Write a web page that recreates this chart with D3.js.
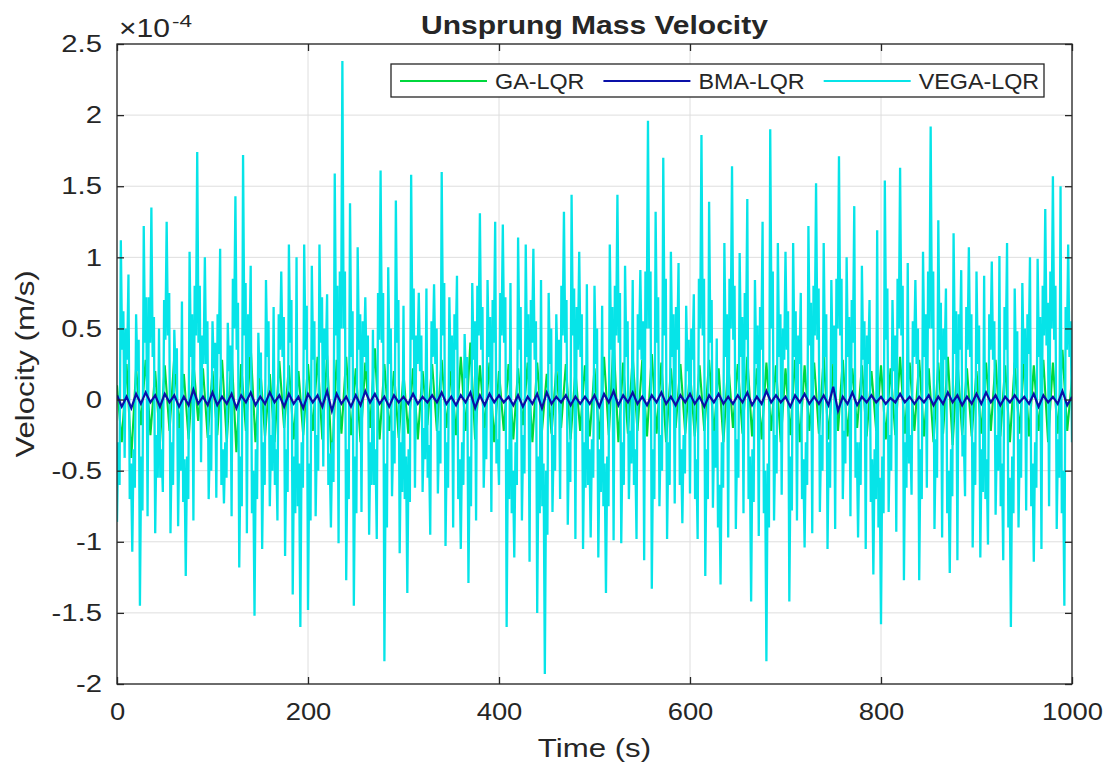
<!DOCTYPE html>
<html>
<head>
<meta charset="utf-8">
<title>Unsprung Mass Velocity</title>
<script src="https://cdn.jsdelivr.net/npm/d3@7"></script>
<style>
  body { margin: 0; background: #fff; }
  text { font-family: "Liberation Sans", Arial, Helvetica, sans-serif; fill: #262626; }
</style>
</head>
<body>
<script>
// velocities in units of 1e-4 m/s, evenly sampled from 0 to 1000 s
var vega = [
  -.86,-.3,-.6, 1.12,.35,.62, -.41,.5,.28, .88,-.7,-.45, -1.07,-.35,-.62, .6,.2,.42, -1.45,-.4,-.78, 1.22,.4,.72, -.82,.72,.4, 1.35,.3,.58, -.94,-.25,-.55, .5,-.55,-.35, -.65,.7,.42, 1.25,.45,.75,
  -.94,-.3,-.6, .49,.18,.36, -.89,-.2,-.5, .69,-.72,-.42, -1.24,-.4,-.7, 1.04,.3,.6, -.85,.8,.45, 1.74,.4,.8, -.44,.45,.25, 1.0,.25,.55, -.7,-.25,-.5, .55,.22,.4, -.69,.6,.32, 1.06,-.6,-.35,
  -.73,-.3,-.55, .54,.2,.38, -.82,.85,.5, 1.43,.35,.68, -1.18,-.4,-.75, 1.72,.45,.82, -.94,.6,.3, .94,-.8,-.5, -1.52,-.35,-.7, .47,.15,.33, -1.05,-.3,-.6, .84,.3,.55, -.75,-.25,-.5, .65,-.6,-.35,
  -.85,.6,.35, .9,.3,.58, -1.1,-.35,-.65, 1.09,.4,.7, -1.37,-.4,-.8, 1.0,-.75,-.45, -1.6,-.3,-.62, 1.09,.35,.66, -1.48,-.45,-.85, .94,.28,.55, -.82,-.25,-.5, 1.09,.4,.72, -.47,.5,.28, .74,-.6,-.38,
  -.9,-.3,-.58, 1.59,.45,.8, -1.01,.9,.5, 2.38,.5,.9, -1.27,-.35,-.7, 1.38,.3,.62, -1.45,-.4,-.8, 1.07,.35,.6, -.79,.55,.3, .72,.2,.45, -.95,-.3,-.6, .49,-.6,-.35, -.98,.75,.42, 1.61,.4,.75,
  -1.84,-.45,-.9, .93,.25,.5, -.68,-.22,-.45, 1.4,.4,.7, -1.08,-.3,-.65, .66,-.7,-.4, -1.36,-.35,-.72, 1.58,.42,.78, -.62,.45,.25, .75,.2,.45, -.65,-.2,-.42, .78,-.55,-.32, -.95,.55,.3, .81,.25,.5,
  -.66,-.22,-.45, 1.6,.45,.82, -1.03,-.3,-.62, .72,.2,.45, -.9,.6,.35, .87,-.7,-.42, -1.05,-.3,-.6, .46,.15,.3, -1.29,-.4,-.75, .82,.28,.55, -.85,.8,.45, 1.31,.35,.65, -.62,-.2,-.42, .84,.3,.58,
  -.79,.7,.4, 1.25,-.45,-.28, -.6,.75,.45, 1.23,.4,.72, -1.6,-.35,-.7, .82,-.8,-.5, -1.11,-.3,-.6, 1.14,.35,.65, -.85,-.25,-.52, 1.09,.3,.6, -1.14,.7,.4, 1.06,.28,.55, -1.5,-.4,-.8, .84,-.75,-.45,
  -1.93,-.5,-.95, .75,.25,.5, -.79,-.25,-.5, .6,.2,.42, -.7,.8,.45, 1.32,.4,.7, -.88,-.3,-.58, 1.44,.45,.78, -.98,.65,.35, 1.04,.3,.6, -1.05,-.3,-.62, .81,-.6,-.35, -.97,-.28,-.55,
  .8,.25,.5, -1.11,-.35,-.65, .66,-.75,-.45, -1.36,-.4,-.75, 1.09,.35,.65, -.99,.8,.45, 1.44,.4,.75, -1.01,-.3,-.6, .94,.3,.55, -.7,-.22,-.45, .84,-.6,-.35, -.98,.6,.35, .91,.28,.55, -1.13,.9,.5,
  1.96,.5,.9, -1.33,-.35,-.7, 1.32,.4,.72, -.75,-.25,-.5, 1.7,.45,.85, -.98,-.3,-.6, 1.04,.3,.6, -.73,.65,.35, .96,-.6,-.35, -.87,-.25,-.52, .66,.2,.42, -.66,.5,.28, .74,-.7,-.42, -.98,.85,.5,
  1.86,.45,.85, -1.24,-.35,-.7, 1.39,.4,.7, -.76,-.22,-.48, .43,-.9,-.6, -1.3,-.3,-.62, 1.1,.3,.6, -.97,.85,.5, 1.64,.42,.8, -.91,-.28,-.55, 1.03,.3,.58, -.8,.75,.42, 1.41,-.7,-.4, -1.42,-.35,-.72, .84,.25,.52,
  -.96,.65,.35, 1.25,-.8,-.5, -1.84,-.45,-.9, 1.9,.5,.9, -.85,-.25,-.52, 1.1,.3,.6, -.67,.5,.28, 1.04,.35,.62, -1.42,-.4,-.78, 1.1,.3,.62, -.85,.45,.25, .75,-.7,-.42, -1.04,-.3,-.6, 1.22,.38,.68,
  -.94,.8,.45, 1.52,.42,.78, -.79,-.25,-.5, 1.1,.3,.6, -1.05,-.3,-.62, .84,.25,.52, -.91,.85,.5, 1.71,.45,.85, -.7,-.22,-.45, 1.0,.3,.58, -.82,.7,.4, 1.36,-.55,-.3, -.97,-.3,-.6, .94,.28,.55,
  -1.05,.45,.25, .7,-.72,-.42, -1.23,-.35,-.7, 1.19,-.9,-.55, -1.58,-.4,-.8, 1.54,.42,.78, -.79,-.25,-.5, .7,.2,.45, -.93,.85,.5, 1.63,.45,.8, -1.27,-.3,-.62, .96,-.45,-.25, -.67,.55,.3, .84,.25,.5,
  -1.27,-.35,-.7, 1.04,.3,.6, -.62,.9,.5, 1.92,.5,.9, -.91,-.28,-.55, 1.26,.35,.68, -.97,.5,.28, .78,-.8,-.5, -1.22,-.35,-.68, 1.17,.32,.62, -1.13,.6,.35, .91,-.4,-.25, -.68,.65,.35, 1.07,.3,.6,
  -1.04,-.3,-.6, .9,.25,.52, -1.11,-.35,-.65, .87,-.7,-.42, -1.02,.6,.35, .97,.28,.55, -.81,-.25,-.5, 1.01,-.75,-.45, -1.13,.65,.35, 1.1,-.9,-.55, -1.6,-.4,-.8, .78,.22,.48, -.9,-.28,-.55, .82,.25,.5,
  -.78,.6,.32, 1.0,-.75,-.45, -1.14,-.3,-.62, .99,.3,.58, -1.05,.8,.45, 1.34,.38,.68, -.75,.9,.5, 1.57,.42,.8, -.91,-.28,-.55, 1.5,-.8,-.5, -1.45,.65,.35, 1.09,.3,.55, -.3
];

var ga = [
  .10,-.30,.25,-.41,.22,-.18,.28,-.25,.20,-.30,
  .24,-.22,.30,-.20,.18,-.28,.26,-.15,.22,-.27,
  .20,-.25,.28,-.30,.33,-.37,.25,-.22,.37,-.30,
  .22,-.26,.18,-.30,.27,-.20,.24,-.28,.20,-.25,
  .25,-.22,.30,-.28,.31,-.47,.28,-.24,.30,-.25,
  .22,-.30,.26,-.20,.36,-.28,.25,-.22,.20,-.27,
  .18,-.24,.22,-.28,.20,-.18,.25,-.22,.28,-.20,
  .22,-.25,.30,-.22,.40,-.28,.24,-.20,.26,-.30,
  .20,-.22,.25,-.28,.22,-.18,.26,-.30,.26,-.22,
  .18,-.24,.22,-.20,.25,-.28,.20,-.22,.24,-.26,
  .22,-.28,.30,-.25,.42,-.30,.26,-.24,.30,-.22,
  .28,-.26,.32,-.24,.26,-.30,.22,-.20,.25,-.24,
  .20,-.26,.24,-.22,.28,-.25,.22,-.30,.26,-.20,
  .25,-.24,.30,-.26,.22,-.28,.26,-.22,.24,-.30,
  .22,-.25,.28,-.30,.24,-.22,.26,-.24,.30,-.28,
  .25,-.22,.28,-.26,.22,-.20,.24,-.26,.20,-.22,
  .24,-.28,.22,-.25,.30,-.24,.26,-.22,.28,-.26,
  .22,-.30,.26,-.24,.30,-.32,.28,-.25,.22,-.26,
  .20,-.24,.26,-.22,.28,-.26,.24,-.30,.26,-.24,
  .30,-.26,.24,-.22,.28,-.30,.26,-.24,.35,-.22,
  .15
];

var bma = [
  .03,-.05,.02,-.06,.04,-.03,.05,-.02,.03,-.05,
  .04,-.02,.03,-.05,.02,-.04,.07,-.03,.02,-.04,
  .05,-.04,.02,-.03,.04,-.06,.03,-.02,.05,-.04,
  .02,-.03,.05,-.02,.03,-.05,.04,-.03,.02,-.06,
  .04,-.02,.03,-.05,.06,-.08,.04,-.03,.02,-.05,
  .03,-.04,.06,-.02,.04,-.03,.02,-.05,.03,-.02,
  .02,-.03,.04,-.03,.02,-.02,.03,-.02,.05,-.03,
  .02,-.04,.03,-.02,.05,-.06,.03,-.04,.04,-.02,
  .03,-.02,.02,-.04,.03,-.05,.02,-.03,.04,-.06,
  .05,-.03,.02,-.02,.03,-.04,.02,-.03,.02,-.03,
  .03,-.05,.04,-.02,.06,-.04,.03,-.02,.05,-.03,
  .02,-.04,.03,-.02,.05,-.03,.02,-.04,.03,-.02,
  .04,-.03,.02,-.05,.03,-.02,.04,-.03,.02,-.03,
  .03,-.02,.05,-.04,.02,-.03,.06,-.02,.03,-.02,
  .02,-.05,.03,-.02,.04,-.03,.02,-.03,.03,-.04,
  .09,-.08,.02,-.03,.05,-.04,.02,-.02,.03,-.02,
  .02,-.03,.01,-.02,.04,-.02,.02,-.03,.02,-.02,
  .03,-.04,.02,-.03,.05,-.02,.03,-.04,.02,-.03,
  .04,-.03,.05,-.02,.03,-.04,.02,-.02,.03,-.02,
  .02,-.03,.04,-.05,.03,-.02,.02,-.03,.06,-.04,
  .02
];

var tEnd = 1000;
var xTicks = [0, 200, 400, 600, 800, 1000];
var yTicks = [-2, -1.5, -1, -0.5, 0, 0.5, 1, 1.5, 2, 2.5];
var seriesNames = ['GA-LQR', 'BMA-LQR', 'VEGA-LQR'];
var seriesColors = ['#00d83c', '#0a10a8', '#06e4e8'];

var W = 1110, H = 768;
var L = 117, R = 1072, T = 44, B = 684;
var ink = '#262626';
var font = '"Liberation Sans", Arial, Helvetica, sans-serif';

var svg = d3.select('body').append('svg').attr('width', W).attr('height', H);
svg.append('rect').attr('width', W).attr('height', H).attr('fill', '#fff');

var x = d3.scaleLinear().domain([0, tEnd]).range([L, R]);
var y = d3.scaleLinear().domain([-2, 2.5]).range([B, T]);

// widen text to the proportions of the original figure
function stretch(sel, k) {
    sel.each(function () {
        var w = this.getComputedTextLength();
        d3.select(this).attr('textLength', w * k).attr('lengthAdjust', 'spacingAndGlyphs');
    });
}

// grid
svg.append('g').selectAll('line').data(xTicks).enter().append('line')
    .attr('x1', function (d) { return x(d); }).attr('x2', function (d) { return x(d); })
    .attr('y1', T).attr('y2', B)
    .attr('stroke', '#dedede').attr('stroke-width', 1);
svg.append('g').selectAll('line').data(yTicks).enter().append('line')
    .attr('y1', function (d) { return y(d); }).attr('y2', function (d) { return y(d); })
    .attr('x1', L).attr('x2', R)
    .attr('stroke', '#dedede').attr('stroke-width', 1);

// series
svg.append('clipPath').attr('id', 'plotClip').append('rect')
    .attr('x', L).attr('y', T).attr('width', R - L).attr('height', B - T);

function lineFor(values) {
    var dt = tEnd / (values.length - 1);
    return d3.line()
        .x(function (d, i) { return x(i * dt); })
        .y(function (d) { return y(d); });
}

var plot = svg.append('g').attr('clip-path', 'url(#plotClip)');
plot.append('path').datum(ga).attr('d', lineFor(ga))
    .attr('fill', 'none').attr('stroke', seriesColors[0]).attr('stroke-width', 2.1);
plot.append('path').datum(vega).attr('d', lineFor(vega))
    .attr('fill', 'none').attr('stroke', seriesColors[2]).attr('stroke-width', 2.3);
plot.append('path').datum(bma).attr('d', lineFor(bma))
    .attr('fill', 'none').attr('stroke', seriesColors[1]).attr('stroke-width', 2.2);

// box
svg.append('rect').attr('x', L).attr('y', T).attr('width', R - L).attr('height', B - T)
    .attr('fill', 'none').attr('stroke', ink).attr('stroke-width', 1.3);

// axes, ticks pointing inwards
function styleAxis(g) {
    g.select('.domain').remove();
    g.style('color', ink).attr('font-family', font).attr('font-size', 23);
    g.selectAll('line').attr('stroke-width', 1.3);
    g.selectAll('text').attr('fill', ink);
}

var gx = svg.append('g').attr('transform', 'translate(0,' + B + ')')
    .call(d3.axisBottom(x).tickValues(xTicks).tickSize(-7).tickSizeOuter(0)
        .tickPadding(20).tickFormat(function (d) { return String(d); }))
    .call(styleAxis);
stretch(gx.selectAll('text'), 1.19);

var gy = svg.append('g').attr('transform', 'translate(' + L + ',0)')
    .call(d3.axisLeft(y).tickValues(yTicks).tickSize(-7).tickSizeOuter(0)
        .tickPadding(15).tickFormat(function (d) { return String(d); }))
    .call(styleAxis);
gy.selectAll('text').attr('font-size', 24);
stretch(gy.selectAll('text'), 1.22);

svg.append('g').attr('transform', 'translate(0,' + T + ')')
    .call(d3.axisTop(x).tickValues(xTicks).tickSize(-7).tickSizeOuter(0).tickFormat(''))
    .call(styleAxis);
svg.append('g').attr('transform', 'translate(' + R + ',0)')
    .call(d3.axisRight(y).tickValues(yTicks).tickSize(-7).tickSizeOuter(0).tickFormat(''))
    .call(styleAxis);

// exponent label
svg.append('text').attr('x', 119).attr('y', 37).attr('font-size', 25).text('\u00d710')
    .attr('textLength', 51).attr('lengthAdjust', 'spacingAndGlyphs');
svg.append('text').attr('x', 172).attr('y', 27).attr('font-size', 17).text('-4')
    .attr('textLength', 20).attr('lengthAdjust', 'spacingAndGlyphs');

// title and axis labels
var title = svg.append('text').attr('x', (L + R) / 2).attr('y', 34)
    .attr('text-anchor', 'middle').attr('font-size', 25).attr('font-weight', 'bold')
    .attr('fill', '#000').text('Unsprung Mass Velocity');
stretch(title, 1.2);

var xl = svg.append('text').attr('x', (L + R) / 2).attr('y', 757)
    .attr('text-anchor', 'middle').attr('font-size', 26).text('Time (s)');
stretch(xl, 1.2);

var yl = svg.append('text').attr('transform', 'translate(34,' + ((T + B) / 2) + ') rotate(-90)')
    .attr('text-anchor', 'middle').attr('font-size', 26).text('Velocity (m/s)');
stretch(yl, 1.2);

// legend
var lg = svg.append('g');
lg.append('rect').attr('x', 391).attr('y', 64).attr('width', 653).attr('height', 33)
    .attr('fill', '#fff').attr('stroke', ink).attr('stroke-width', 1.3);
var cursor = 400;
seriesNames.forEach(function (name, i) {
    lg.append('line').attr('x1', cursor).attr('x2', cursor + 87).attr('y1', 81).attr('y2', 81)
        .attr('stroke', seriesColors[i]).attr('stroke-width', 2);
    var t = lg.append('text').attr('x', cursor + 95).attr('y', 89).attr('font-size', 22).text(name);
    stretch(t, 1.06);
    cursor = cursor + 95 + t.node().getComputedTextLength() + 19;
});
</script>
</body>
</html>
